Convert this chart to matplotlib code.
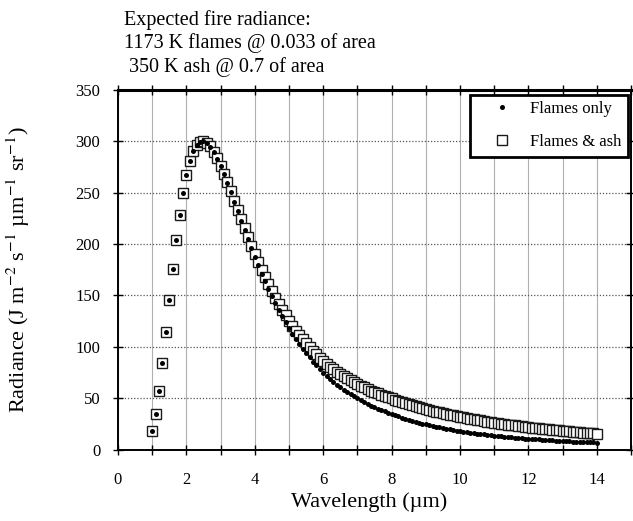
import matplotlib.pyplot as plt

plt.rcParams['font.family'] = ['Liberation Serif', 'DejaVu Serif']
plt.rcParams['mathtext.fontset'] = 'stix'

# wavelength in micrometres, one point every 0.1 um
wavelength = [
    1.0, 1.1, 1.2, 1.3, 1.4, 1.5, 1.6, 1.7, 1.8, 1.9,
    2.0, 2.1, 2.2, 2.3, 2.4, 2.5, 2.6, 2.7, 2.8, 2.9,
    3.0, 3.1, 3.2, 3.3, 3.4, 3.5, 3.6, 3.7, 3.8, 3.9,
    4.0, 4.1, 4.2, 4.3, 4.4, 4.5, 4.6, 4.7, 4.8, 4.9,
    5.0, 5.1, 5.2, 5.3, 5.4, 5.5, 5.6, 5.7, 5.8, 5.9,
    6.0, 6.1, 6.2, 6.3, 6.4, 6.5, 6.6, 6.7, 6.8, 6.9,
    7.0, 7.1, 7.2, 7.3, 7.4, 7.5, 7.6, 7.7, 7.8, 7.9,
    8.0, 8.1, 8.2, 8.3, 8.4, 8.5, 8.6, 8.7, 8.8, 8.9,
    9.0, 9.1, 9.2, 9.3, 9.4, 9.5, 9.6, 9.7, 9.8, 9.9,
    10.0, 10.1, 10.2, 10.3, 10.4, 10.5, 10.6, 10.7, 10.8, 10.9,
    11.0, 11.1, 11.2, 11.3, 11.4, 11.5, 11.6, 11.7, 11.8, 11.9,
    12.0, 12.1, 12.2, 12.3, 12.4, 12.5, 12.6, 12.7, 12.8, 12.9,
    13.0, 13.1, 13.2, 13.3, 13.4, 13.5, 13.6, 13.7, 13.8, 13.9,
    14.0,
]

flames_only = [
    18.5, 35.0, 57.5, 84.5, 114.5, 145.4, 175.6, 203.7, 228.6, 249.8,
    267.1, 280.5, 290.1, 296.3, 299.5, 300.0, 298.2, 294.6, 289.5, 283.0,
    275.7, 267.6, 259.1, 250.2, 241.1, 231.9, 222.7, 213.7, 204.7, 196.0,
    187.5, 179.3, 171.3, 163.7, 156.3, 149.3, 142.5, 136.0, 129.9, 124.0,
    118.4, 113.0, 107.9, 103.1, 98.4, 94.1, 89.9, 85.9, 82.2, 78.6,
    75.2, 72.0, 69.0, 66.2, 63.5, 61.0, 58.6, 56.3, 54.1, 52.0,
    50.0, 48.2, 46.4, 44.7, 43.1, 41.6, 40.1, 38.8, 37.4, 36.2,
    35.0, 33.8, 32.6, 31.5, 30.4, 29.4, 28.4, 27.5, 26.6, 25.7,
    24.9, 24.1, 23.3, 22.6, 21.9, 21.3, 20.6, 20.0, 19.4, 18.9,
    18.3, 17.8, 17.3, 16.8, 16.3, 15.9, 15.5, 15.1, 14.7, 14.3,
    13.9, 13.6, 13.2, 12.9, 12.6, 12.3, 12.0, 11.7, 11.4, 11.1,
    10.9, 10.6, 10.4, 10.2, 9.9, 9.7, 9.5, 9.3, 9.1, 8.9,
    8.8, 8.6, 8.4, 8.2, 8.1, 7.9, 7.8, 7.6, 7.5, 7.4,
    7.2,
]

flames_ash = [
    18.5, 35.0, 57.5, 84.5, 114.5, 145.4, 175.6, 203.7, 228.6, 249.8,
    267.1, 280.5, 290.1, 296.3, 299.5, 300.1, 298.3, 294.7, 289.7, 283.3,
    276.1, 268.1, 259.8, 251.0, 242.1, 233.2, 224.2, 215.5, 206.8, 198.4,
    190.3, 182.5, 174.9, 167.7, 160.7, 154.2, 147.8, 141.8, 136.1, 130.7,
    125.6, 120.6, 116.0, 111.6, 107.4, 103.5, 99.7, 96.1, 92.8, 89.6,
    86.6, 83.7, 81.0, 78.5, 76.1, 73.9, 71.8, 69.7, 67.7, 65.8,
    64.0, 62.4, 60.7, 59.2, 57.7, 56.3, 54.9, 53.7, 52.3, 51.2,
    50.0, 48.8, 47.7, 46.6, 45.5, 44.4, 43.4, 42.5, 41.5, 40.6,
    39.7, 38.9, 38.0, 37.2, 36.4, 35.7, 34.9, 34.2, 33.5, 32.9,
    32.2, 31.6, 31.0, 30.3, 29.7, 29.2, 28.7, 28.1, 27.6, 27.1,
    26.5, 26.1, 25.6, 25.1, 24.7, 24.2, 23.8, 23.3, 22.9, 22.5,
    22.1, 21.8, 21.4, 21.0, 20.7, 20.3, 20.0, 19.6, 19.3, 19.0,
    18.7, 18.4, 18.1, 17.8, 17.5, 17.2, 16.9, 16.7, 16.4, 16.2,
    15.9,
]

x_ticks = list(range(16))
x_tick_labels = ['0', '', '2', '', '4', '', '6', '', '8', '', '10', '', '12', '', '14', '']
y_ticks = [0, 50, 100, 150, 200, 250, 300, 350]

header = ['Expected fire radiance:',
          '1173 K flames @ 0.033 of area',
          ' 350 K ash @ 0.7 of area']

fig = plt.figure(figsize=(6.33, 5.21), dpi=100)
ax = fig.add_axes([0.1864, 0.1363, 0.8104, 0.6919])

ax.plot(wavelength, flames_ash, ls='none', marker='s', ms=6.8, mfc='white',
        mec='#1a1a1a', mew=1.0, label='Flames & ash', zorder=3)
ax.plot(wavelength, flames_only, ls='none', marker='o', ms=3.6, mfc='black',
        mec='black', mew=0, label='Flames only', zorder=4)

ax.set_xlim(0, 15)
ax.set_ylim(0, 350)
ax.set_xticks(x_ticks)
ax.set_xticklabels(x_tick_labels)
ax.set_yticks(y_ticks)

ax.grid(axis='x', color='#b0b0b0', lw=0.8, ls='-', zorder=0)
ax.grid(axis='y', color='#555555', lw=0.9, ls=(0, (1, 1.5)), zorder=0)
ax.set_axisbelow(True)

ax.tick_params(direction='inout', length=7.5, width=1.0, top=True, right=True,
               labelsize=12, colors='black')
ax.tick_params(axis='x', pad=12)
ax.tick_params(axis='y', pad=9)

for side in ['left', 'bottom', 'right']:
    ax.spines[side].set_linewidth(1.4)
ax.spines['top'].set_linewidth(2.2)

handles, labels = ax.get_legend_handles_labels()
leg = ax.legend(handles[::-1], labels[::-1], loc='upper right',
                bbox_to_anchor=(0.994, 0.986), borderaxespad=0, fontsize=12,
                fancybox=False, framealpha=1, edgecolor='black',
                borderpad=0.4, labelspacing=1.0, handlelength=3.0,
                handletextpad=0.2)
leg.get_frame().set_linewidth(2)
leg.set_zorder(10)

ax.set_ylabel('Radiance (J m$^{-2}$ s$^{-1}$ µm$^{-1}$ sr$^{-1}$)', fontsize=16)
ax.yaxis.set_label_coords(-0.168, 0.5)
fig.text(369 / 633, 1 - 502 / 521, 'Wavelength (µm)', ha='center', va='center',
         fontsize=16)

for i, line in enumerate(header):
    fig.text(124 / 633, 1 - (20 + 23.5 * i) / 521, line, ha='left', va='center',
             fontsize=14.5)

plt.savefig('out.png', dpi=100)
